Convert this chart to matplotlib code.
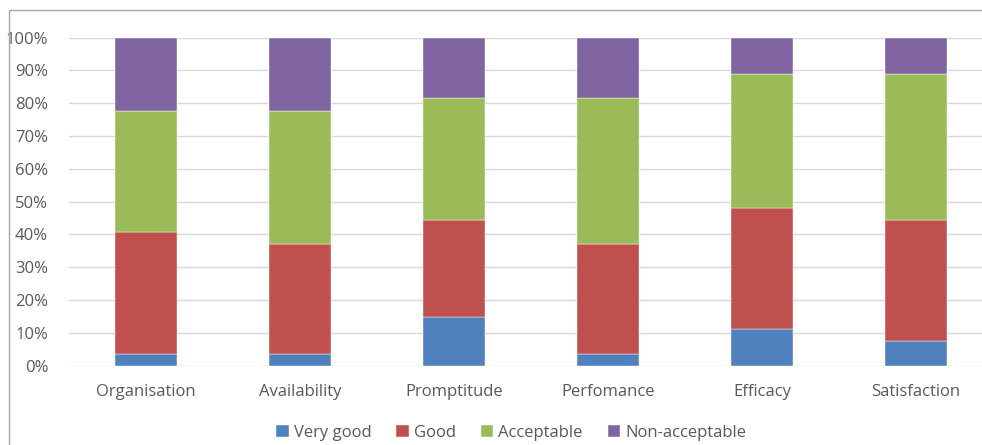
import numpy as np
import matplotlib
matplotlib.use("Agg")
import matplotlib.pyplot as plt
from matplotlib.patches import Rectangle

categories = ["Organisation", "Availability", "Promptitude", "Perfomance", "Efficacy", "Satisfaction"]
series_names = ["Very good", "Good", "Acceptable", "Non-acceptable"]
very_good = [3.7, 3.7, 14.8, 3.7, 11.1, 7.4]
good = [37.0, 33.3, 29.6, 33.3, 37.0, 37.0]
acceptable = [37.1, 40.8, 37.1, 44.5, 40.8, 44.5]
non_acceptable = [22.2, 22.2, 18.5, 18.5, 11.1, 11.1]
colors = ["#4F81BD", "#C0504D", "#9BBB59", "#8064A2"]
yticks = [0, 10, 20, 30, 40, 50, 60, 70, 80, 90, 100]

plt.rcParams['font.family'] = ['Open Sans', 'DejaVu Sans']

W, H = 982, 445
fig = plt.figure(figsize=(W / 100, H / 100), dpi=100)

# outer chart border (cropped on the right / bottom)
fig.patches.append(Rectangle((9 / W, -0.1), 1.2, (445 - 10) / H + 0.1,
                             transform=fig.transFigure, fill=False,
                             edgecolor="#a6a6a6", linewidth=1.0))

left, right = 69 / W, 993 / W
bottom, top = (H - 365.7) / H, (H - 37.7) / H
ax = fig.add_axes([left, bottom, right - left, top - bottom])

x = np.arange(len(categories))
base = np.zeros(len(categories))
handles = []
for name, vals, c in zip(series_names, [very_good, good, acceptable, non_acceptable], colors):
    b = ax.bar(x, vals, 0.4, bottom=base, color=c, label=name, zorder=3,
               edgecolor="white", linewidth=0.3)
    handles.append(b)
    base = base + np.array(vals)

ax.set_xlim(-0.5, len(categories) - 0.5)
ax.set_ylim(0, 100)
ax.set_yticks(yticks)
ax.set_yticklabels([f"{t}%" for t in yticks])
ax.set_xticks(x)
ax.set_xticklabels(categories)
ax.grid(axis="y", color="#d9d9d9", linewidth=1.0, zorder=0)
ax.tick_params(axis="both", length=0, labelsize=12, colors="#595959")
ax.tick_params(axis="y", pad=15)
ax.tick_params(axis="x", pad=13)
for s in ax.spines.values():
    s.set_visible(False)

fig.legend(handles=handles, loc="center", ncol=4,
           bbox_to_anchor=(511 / W, (H - 433) / H), frameon=False,
           fontsize=12, labelcolor="#595959", handlelength=0.75,
           handleheight=0.75, handletextpad=0.3, columnspacing=1.5)

fig.savefig("out.png", dpi=100)
